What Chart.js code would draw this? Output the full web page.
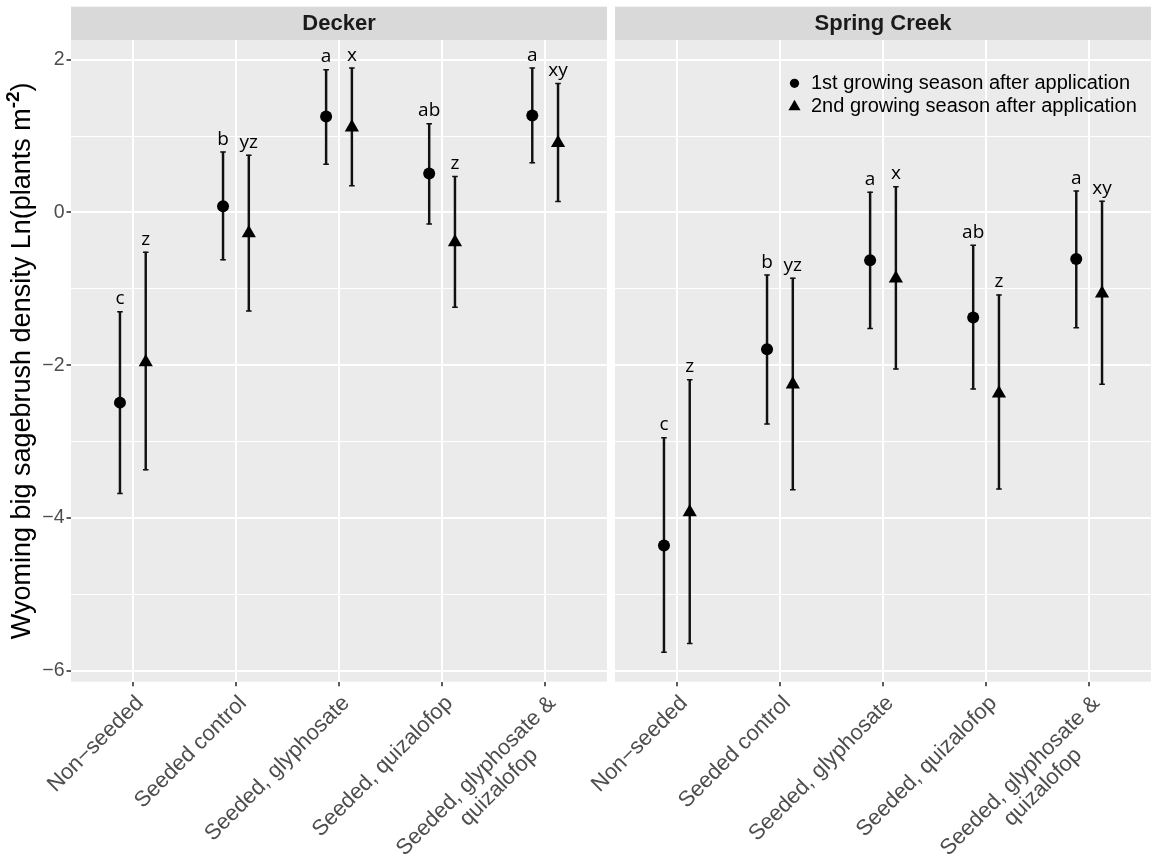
<!DOCTYPE html>
<html>
<head>
<meta charset="utf-8">
<script src="https://cdn.jsdelivr.net/npm/chart.js@4.4.1/dist/chart.umd.min.js"></script>
<style>
  html, body { margin: 0; padding: 0; background: #ffffff; }
  #wrap { position: relative; width: 1154px; height: 863px; }
  #wrap canvas { position: absolute; left: 0; top: 0; }
</style>
</head>
<body>
<div id="wrap">
  <canvas id="decker" width="1154" height="863"></canvas>
  <canvas id="spring" width="1154" height="863"></canvas>
</div>
<script>
// Treatments on the x axis (the last one wraps onto two lines)
const categories = ['Non\u2212seeded', 'Seeded control', 'Seeded, glyphosate', 'Seeded, quizalofop', ['Seeded, glyphosate &', 'quizalofop']];
const seasons = ['1st growing season after application', '2nd growing season after application'];
const sites = ['Decker', 'Spring Creek'];
const yMajorTicks = [-6, -4, -2, 0, 2];
const yMinorTicks = [-5, -3, -1, 1];

// Decker: mean Ln(plants m-2) with lower / upper interval limits
const deckerMean1 = [-2.49, 0.08, 1.255, 0.51, 1.27];
const deckerLow1  = [-3.68, -0.62, 0.63, -0.15, 0.65];
const deckerHigh1 = [-1.30, 0.79, 1.87, 1.16, 1.89];
const deckerMean2 = [-1.96, -0.27, 1.115, -0.39, 0.91];
const deckerLow2  = [-3.37, -1.29, 0.35, -1.24, 0.145];
const deckerHigh2 = [-0.52, 0.75, 1.89, 0.47, 1.69];

// Spring Creek
const springMean1 = [-4.36, -1.79, -0.625, -1.375, -0.61];
const springLow1  = [-5.76, -2.77, -1.52, -2.31, -1.51];
const springHigh1 = [-2.95, -0.82, 0.266, -0.43, 0.28];
const springMean2 = [-3.925, -2.25, -0.865, -2.37, -1.06];
const springLow2  = [-5.645, -3.63, -2.05, -3.62, -2.25];
const springHigh2 = [-2.19, -0.86, 0.335, -1.08, 0.148];

// Mean-separation letters
const letters1 = ['c', 'b', 'a', 'ab', 'a'];
const letters2 = ['z', 'yz', 'x', 'z', 'xy'];

// Layout
const W = 1154, H = 863;
const STRIP_TOP = 6.7, PANEL_TOP = 40, PANEL_BOTTOM = 681.7;
const PANELS = [{ left: 71, right: 607 }, { left: 615, right: 1151 }];
const Y_MIN = -6.144, Y_MAX = 2.258;
const DODGE = 0.125;
const SANS = '"Liberation Sans", Arial, Helvetica, sans-serif';

function fmtTick(v) { return v < 0 ? '\u2212' + Math.abs(v) : String(v); }
function pos(i, off) { return i + 1 + off; }
function pointData(means, off) { return means.map((m, i) => ({ x: pos(i, off), y: m })); }
function barData(lo, hi, off) { return lo.map((l, i) => ({ x: pos(i, off), y: [l, hi[i]] })); }
function capData(lo, hi, off) {
  const out = [];
  lo.forEach((l, i) => { out.push({ x: pos(i, off), y: l }); out.push({ x: pos(i, off), y: hi[i] }); });
  return out;
}

// Grey panel, facet strip and strip title
function panelBackground(site) {
  return {
    id: 'panelBackground',
    beforeDraw(chart) {
      const { ctx, chartArea: a } = chart;
      ctx.save();
      ctx.fillStyle = '#EBEBEB';
      ctx.fillRect(a.left, a.top, a.right - a.left, a.bottom - a.top);
      ctx.fillStyle = '#D9D9D9';
      ctx.fillRect(a.left, STRIP_TOP, a.right - a.left, a.top - STRIP_TOP);
      ctx.fillStyle = '#1A1A1A';
      ctx.font = 'bold 22px ' + SANS;
      ctx.textAlign = 'center';
      ctx.textBaseline = 'middle';
      ctx.fillText(site, (a.left + a.right) / 2, (STRIP_TOP + a.top) / 2 + 1);
      ctx.restore();
    }
  };
}

// Letters above each interval
function letterLabels(groups) {
  return {
    id: 'letterLabels',
    afterDatasetsDraw(chart) {
      const { ctx, scales: { x, y } } = chart;
      ctx.save();
      ctx.font = '19px "Open Sans", "Noto Sans", sans-serif';
      ctx.fillStyle = '#000000';
      ctx.textAlign = 'center';
      ctx.textBaseline = 'alphabetic';
      groups.forEach(g => g.letters.forEach((t, i) => {
        ctx.fillText(t, x.getPixelForValue(pos(i, g.off)), y.getPixelForValue(g.hi[i]) - 7.5);
      }));
      ctx.restore();
    }
  };
}

// Rotated treatment names under each tick
function categoryLabels() {
  return {
    id: 'categoryLabels',
    afterDraw(chart) {
      const { ctx, scales: { x }, chartArea: a } = chart;
      ctx.save();
      ctx.font = '22px ' + SANS;
      ctx.fillStyle = '#4D4D4D';
      ctx.textAlign = 'center';
      ctx.textBaseline = 'alphabetic';
      categories.forEach((lab, i) => {
        const lines = Array.isArray(lab) ? lab : [lab];
        const wMax = Math.max(...lines.map(l => ctx.measureText(l).width));
        ctx.save();
        ctx.translate(x.getPixelForValue(i + 1) + 11.5, a.bottom + 22.5);
        ctx.rotate(-Math.PI / 4);
        lines.forEach((l, j) => ctx.fillText(l, -wMax / 2 + (j > 0 ? 8 : 0), j * 24));
        ctx.restore();
      });
      ctx.restore();
    }
  };
}

// Y axis title with superscript
const axisTitle = {
  id: 'axisTitle',
  afterDraw(chart) {
    const { ctx, chartArea: a } = chart;
    const main = 'Wyoming big sagebrush density Ln(plants m', sup = '-2', close = ')';
    const mainFont = '27px ' + SANS, supFont = 'bold 19px ' + SANS;
    ctx.save();
    ctx.font = mainFont;
    const w1 = ctx.measureText(main).width, w3 = ctx.measureText(close).width;
    ctx.font = supFont;
    const w2 = ctx.measureText(sup).width;
    ctx.translate(29.5, (a.top + a.bottom) / 2);
    ctx.rotate(-Math.PI / 2);
    ctx.fillStyle = '#000000';
    ctx.textAlign = 'left';
    ctx.textBaseline = 'alphabetic';
    let x0 = -(w1 + w2 + w3) / 2;
    ctx.font = mainFont; ctx.fillText(main, x0, 0); x0 += w1;
    ctx.font = supFont; ctx.fillText(sup, x0, -11); x0 += w2;
    ctx.font = mainFont; ctx.fillText(close, x0, 0);
    ctx.restore();
  }
};

// Season legend inside the right panel
const seasonLegend = {
  id: 'seasonLegend',
  afterDraw(chart) {
    const { ctx, chartArea: a } = chart;
    const marks = [{ pointStyle: 'circle', radius: 4.6 }, { pointStyle: 'triangle', radius: 7 }];
    ctx.save();
    ctx.font = '20px ' + SANS;
    ctx.textAlign = 'left';
    ctx.textBaseline = 'middle';
    seasons.forEach((s, i) => {
      const yy = a.top + 43.3 + i * 23.4;
      ctx.fillStyle = '#000000';
      Chart.helpers.drawPoint(ctx, { pointStyle: marks[i].pointStyle, radius: marks[i].radius, borderWidth: 0, rotation: 0 }, a.left + 179.5, yy);
      ctx.fillText(s, a.left + 196, yy);
    });
    ctx.restore();
  }
};

function makePanel(canvasId, idx, s) {
  const isLeft = idx === 0;
  const p = PANELS[idx];
  const isMajor = v => yMajorTicks.includes(v);
  const plugins = [
    panelBackground(sites[idx]),
    letterLabels([{ off: -DODGE, hi: s.high1, letters: letters1 }, { off: DODGE, hi: s.high2, letters: letters2 }]),
    categoryLabels()
  ];
  if (isLeft) plugins.push(axisTitle); else plugins.push(seasonLegend);

  return new Chart(document.getElementById(canvasId), {
    type: 'scatter',
    data: {
      datasets: [
        { label: seasons[0], data: pointData(s.mean1, -DODGE), pointStyle: 'circle', pointRadius: 6, pointHoverRadius: 6,
          backgroundColor: '#000000', borderWidth: 0, order: 0 },
        { label: seasons[1], data: pointData(s.mean2, DODGE), pointStyle: 'triangle', pointRadius: 8.2, pointHoverRadius: 8.2,
          backgroundColor: '#000000', borderWidth: 0, order: 0 },
        { type: 'bar', data: barData(s.low1, s.high1, -DODGE), barThickness: 1.8, grouped: false,
          backgroundColor: '#111111', borderWidth: 0, order: 3 },
        { type: 'bar', data: barData(s.low2, s.high2, DODGE), barThickness: 1.8, grouped: false,
          backgroundColor: '#111111', borderWidth: 0, order: 3 },
        { data: capData(s.low1, s.high1, -DODGE), pointStyle: 'line', pointRadius: 2.8, pointHoverRadius: 2.8,
          borderColor: '#111111', borderWidth: 1.5, order: 2 },
        { data: capData(s.low2, s.high2, DODGE), pointStyle: 'line', pointRadius: 2.8, pointHoverRadius: 2.8,
          borderColor: '#111111', borderWidth: 1.5, order: 2 }
      ]
    },
    options: {
      responsive: false,
      maintainAspectRatio: false,
      animation: false,
      devicePixelRatio: 1,
      events: [],
      layout: { autoPadding: false, padding: { left: isLeft ? 0 : p.left, right: W - p.right, top: PANEL_TOP, bottom: 0 } },
      plugins: { legend: { display: false }, tooltip: { enabled: false }, title: { display: false } },
      scales: {
        x: {
          type: 'linear', min: 0.4, max: 5.6, offset: false,
          afterBuildTicks: sc => { sc.ticks = categories.map((c, i) => ({ value: i + 1 })); },
          afterFit: sc => { sc.height = H - PANEL_BOTTOM; },
          ticks: { display: false },
          grid: { offset: false, color: '#FFFFFF', lineWidth: 2, drawTicks: true, tickLength: 4.5, tickColor: '#333333', tickWidth: 1.6 },
          border: { display: false }
        },
        y: {
          type: 'linear', min: Y_MIN, max: Y_MAX,
          afterBuildTicks: sc => { sc.ticks = [...yMajorTicks, ...yMinorTicks].sort((a, b) => a - b).map(v => ({ value: v })); },
          afterFit: sc => { sc.width = isLeft ? p.left : 0; },
          ticks: {
            display: isLeft, autoSkip: false, padding: 2, color: '#4D4D4D',
            font: { family: SANS, size: 19.5 },
            callback: v => isMajor(v) ? fmtTick(v) : ''
          },
          grid: {
            color: '#FFFFFF',
            lineWidth: c => (c.tick && isMajor(c.tick.value)) ? 2 : 1,
            drawTicks: isLeft, tickLength: 4.5, tickWidth: 1.6,
            tickColor: c => (c.tick && isMajor(c.tick.value)) ? '#333333' : 'rgba(0,0,0,0)'
          },
          border: { display: false }
        }
      }
    },
    plugins
  });
}

function build() {
  makePanel('decker', 0, {
    mean1: deckerMean1, low1: deckerLow1, high1: deckerHigh1,
    mean2: deckerMean2, low2: deckerLow2, high2: deckerHigh2
  });
  makePanel('spring', 1, {
    mean1: springMean1, low1: springLow1, high1: springHigh1,
    mean2: springMean2, low2: springLow2, high2: springHigh2
  });
}

Promise.all([
  '19px "Liberation Sans"', 'bold 22px "Liberation Sans"', '19px "Open Sans"'
].map(f => document.fonts.load(f))).catch(() => {}).then(build);
</script>
</body>
</html>
